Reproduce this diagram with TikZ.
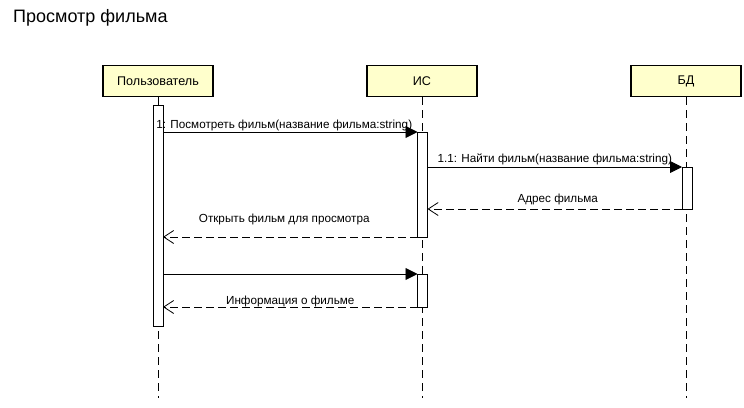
\documentclass[tikz,border=0pt]{standalone}
\usepackage{fontspec}
\setmainfont{Liberation Sans}
\usetikzlibrary{arrows.meta}
\definecolor{actorfill}{HTML}{FFFFCC}
\begin{document}
\begin{tikzpicture}[x=1pt,y=-1pt,
  actor/.style={draw=black, line width=1.6pt, fill=actorfill, minimum width=110pt, minimum height=31pt, inner sep=0pt, font=\fontsize{12.6}{14}\selectfont},
  bar/.style={draw=black, line width=0.9pt, fill=white, minimum width=10pt, inner sep=0pt, outer sep=0pt},
  lifeline/.style={draw=black, line width=0.9pt, dash pattern=on 8pt off 5pt},
  sync/.style={draw=black, line width=0.9pt, -{Triangle[length=12pt,width=12pt]}},
  reply/.style={draw=black, line width=0.9pt, dash pattern=on 8pt off 4pt, -{Straight Barb[length=10pt,width=13pt,line width=0.8pt]}},
  lbl/.style={font=\fontsize{11.7}{13}\selectfont, anchor=base, inner sep=0pt}
]
\useasboundingbox (0,0) rectangle (744,407);
\node[anchor=base west, inner sep=0pt, font=\fontsize{18}{21}\selectfont] (title) at (13,22.5) {Просмотр фильма};

\node[actor] (pu) at (158,81) {Пользователь};
\node[actor] (pi) at (422,81) {ИС};
\node[actor] (pd) at (686,81) {БД};

\coordinate (eu) at (158,398);
\coordinate (ei) at (422,398);
\coordinate (ed) at (686,398);
\draw[lifeline] (pu.south) -- (eu);
\draw[lifeline] (pi.south) -- (ei);
\draw[lifeline] (pd.south) -- (ed);

\node[bar, minimum height=221pt] (ua) at (158,215.5) {};
\node[bar, minimum height=105pt] (ia) at (422.5,184.5) {};
\node[bar, minimum height=42pt] (da) at (687,188) {};
\node[bar, minimum height=33pt] (ib) at (422.5,290.5) {};

\draw[sync] (ua.east |- ia.north) -- (ia.north west)
  node[lbl, midway, xshift=-6pt, yshift=4pt] {1: Посмотреть фильм(название фильма:string)};
\draw[sync] (ia.east |- da.north) -- (da.north west)
  node[lbl, midway, yshift=5pt] {1.1: Найти фильм(название фильма:string)};
\draw[reply] (da.south west) -- (ia.east |- da.south)
  node[lbl, midway, xshift=3pt, yshift=7pt] {Адрес фильма};
\draw[reply] (ia.south west) -- (ua.east |- ia.south)
  node[lbl, midway, xshift=-6pt, yshift=15pt] {Открыть фильм для просмотра};
\draw[sync] (ua.east |- ib.north) -- (ib.north west);
\draw[reply] (ib.south west) -- (ua.east |- ib.south)
  node[lbl, midway, yshift=3pt] {Информация о фильме};
\end{tikzpicture}
\end{document}
